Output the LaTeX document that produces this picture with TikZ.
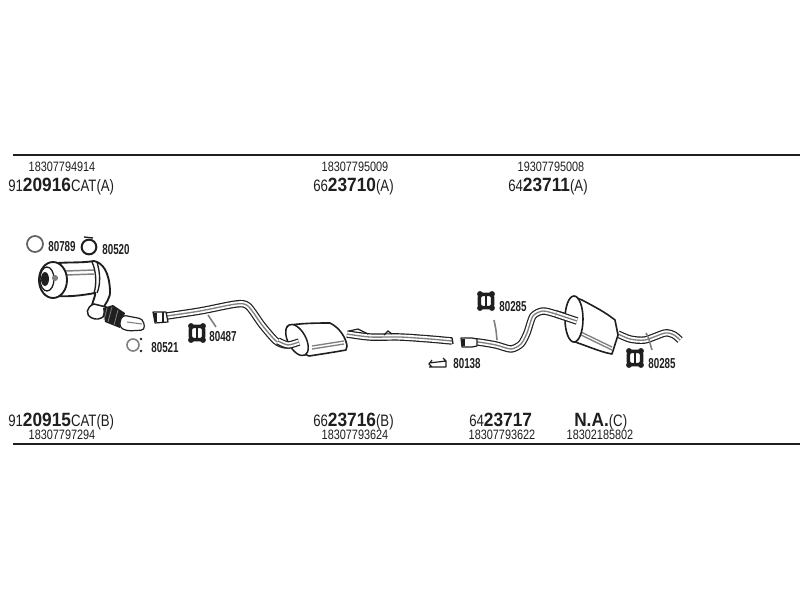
\documentclass[tikz,border=0pt]{standalone}
\usepackage{fontspec}
\setmainfont{Liberation Sans}
\newfontfamily\thinf[FakeStretch=0.8]{Liberation Sans}
\newfontfamily\boldf[FakeStretch=0.9]{Liberation Sans Bold}
\newfontfamily\labf[FakeStretch=0.68]{Liberation Sans Bold}
\definecolor{ink}{gray}{0.12}
\definecolor{mid}{gray}{0.5}
\tikzset{
  rule/.style={draw=ink,line width=1.3pt},
  num/.style={inner sep=0,font=\thinf\fontsize{10.2}{10}\selectfont,text=ink},
  part/.style={inner sep=0,anchor=base west,text=ink},
  tag/.style={inner sep=0,font=\labf\fontsize{10.8}{11}\selectfont,text=ink},
  outl/.style={draw=ink,line width=0.9pt,line join=round,fill=white},
}
\newcommand\pipeline[2][5.6]{%
  \draw[ink,line width=#1 pt,line join=round] plot[smooth,tension=.45] coordinates {#2};
  \draw[white,line width=#1 pt-1.8pt,line join=round] plot[smooth,tension=.45] coordinates {#2};
  \draw[mid,line width=1pt,line join=round] plot[smooth,tension=.45] coordinates {#2};
}
\newcommand\partno[5]{%
  \node[part] (#1) at (#2) {\thinf\fontsize{12.4}{12}\selectfont #3\boldf\fontsize{14.4}{14}\selectfont #4\thinf\fontsize{12.4}{12}\selectfont #5};
}
\newcommand\rubber[2]{%
  \begin{scope}[shift={(#2)}]
    \node[draw=ink,line width=2.6pt,fill=white,rounded corners=2.5pt,minimum width=10pt,minimum height=10pt,inner sep=0,shape=rectangle] (#1) at (0,0) {};
    \fill[ink] (-6,-7) circle (2.2pt) (6,-7) circle (2.2pt) (-6,7) circle (2.2pt) (6,7) circle (2.2pt);
    \fill[ink] (-1.4,-6) rectangle (1.4,6);
  \end{scope}
}
\begin{document}
\begin{tikzpicture}[x=0.75pt,y=-0.75pt]
\useasboundingbox (0,0) rectangle (800,600);
\fill[white] (0,0) rectangle (800,600);
\coordinate (tl) at (13,155); \coordinate (tr) at (800,155);
\coordinate (bl) at (13,444); \coordinate (br) at (800,444);
\draw[rule] (tl) -- (tr);
\draw[rule] (bl) -- (br);

% top texts
\node[num] (t1) at (62,167) {18307794914};
\node[num] (t2) at (355,167) {18307795009};
\node[num] (t3) at (551,167) {19307795008};
\partno{a1}{8,191}{91}{20916}{CAT(A)}
\partno{a2}{313,191}{66}{23710}{(A)}
\partno{a3}{508,191}{64}{23711}{(A)}

% bottom texts
\partno{b1}{8,426}{91}{20915}{CAT(B)}
\partno{b2}{313,426}{66}{23716}{(B)}
\partno{b3}{469,426}{64}{23717}{}
\node[part] (b4) at (574,426) {\boldf\fontsize{14.4}{14}\selectfont N.A.\thinf\fontsize{12.4}{12}\selectfont (C)};
\node[num] (c1) at (62,435) {18307797294};
\node[num] (c2) at (355,435) {18307793624};
\node[num] (c3) at (502,435) {18307793622};
\node[num] (c4) at (600,435) {18302185802};

% catalyst
\draw[ink,line width=1.4pt,fill=white] (58,263) .. controls (72,262) and (82,263) .. (94,261) .. controls (103,263) and (109,272) .. (110,290) .. controls (111,298) and (105,304) .. (102,310) -- (92,305) .. controls (94,298) and (96,294) .. (95,293) .. controls (84,295) and (70,297) .. (58,296) -- cycle;
\draw[mid,line width=1.1pt] (66,271) -- (94,270) (66,275) -- (94,274);
\draw[ink,line width=1pt] (92,262) .. controls (96,270) and (97,284) .. (94,293);
\draw[ink,line width=1pt] (97,262) .. controls (100,272) and (101,284) .. (97,293);
\draw[ink,line width=1.4pt,fill=white] (53,280) ellipse (14 and 18);
\draw[ink,line width=1pt,fill=white] (47,279) ellipse (7 and 12);
\fill[ink] (45,279) ellipse (4 and 7);
\fill[mid] (55,278) circle (2.3pt);
% flex section
\draw[ink,line width=1.1pt,fill=white] (94,304) .. controls (86,307) and (85,315) .. (92,318) .. controls (96,320) and (100,319) .. (103,317) -- (106,307) -- cycle;
\fill[ink] (103,308) -- (113,305) -- (125,313) -- (120,328) -- (105,322) -- cycle;
\draw[mid,line width=0.6pt] (107,308) -- (104,320) (112,307) -- (108,322) (118,310) -- (114,325);
\draw[outl,rounded corners=3pt] (122,315) -- (143,319) -- (145,330) -- (127,331) -- (119,327) -- cycle;
\draw[mid,line width=0.8pt] (127,322) -- (142,324);

% rings
\node[circle,draw=mid!70!ink,line width=1.3pt,minimum size=12pt,inner sep=0] (r1) at (35,244) {};
\node[circle,draw=ink,line width=1.5pt,minimum size=11pt,inner sep=0] (r2) at (89,247) {};
\draw[ink,line width=1pt] (84,237) -- (93,238);
\node[circle,draw=mid,line width=1.2pt,minimum size=9pt,inner sep=0] (r3) at (133,345) {};
\fill[ink] (141,339) circle (1.1pt) (141,351) circle (1.1pt);
\node[tag] (n1) at (62,247) {80789};
\node[tag] (n2) at (116,250) {80520};
\node[tag] (n3) at (165,348) {80521};

% front pipe
\pipeline{(160,317) (200,311) (236,304) (248,306) (262,325) (276,341) (286,345) (299,343)}
\draw[outl] (153,312) -- (166,312) -- (168,322) -- (155,323) -- cycle;
\fill[ink] (154,313) rectangle (157,322);
\draw[ink,line width=0.8pt] (163,312) -- (163,322);
\draw[mid,line width=1.2pt] (208,315) -- (216,327);
\rubber{h1}{197,333}
\node[tag] (n4) at (223,337) {80487};

% middle muffler
\pipeline{(347,334) (370,337) (400,337) (430,339) (452,341)}
\draw[ink,line width=0.9pt] (349,331) -- (358,329) -- (368,334) (384,335) -- (388,331) -- (392,334);
\draw[ink,line width=1pt] (452,338) -- (453,344);
\draw[outl,line width=1.2pt] (290,325) .. controls (305,323) and (320,323) .. (330,323) .. controls (340,328) and (346,338) .. (347,346) -- (346,350) .. controls (335,352) and (322,354) .. (309,356) .. controls (298,352) and (287,338) .. (286,330) .. controls (286,327) and (288,325) .. (290,325) -- cycle;
\draw[mid,line width=1pt] (312,349) -- (344,344) (312,346) -- (344,341);
\draw[ink,line width=1.1pt,fill=white,rotate around={28:(297,340)}] (297,340) ellipse (9 and 17);
\pipeline{(278,341) (288,345) (299,342)}

% clip 80138
\draw[ink,line width=0.9pt] (429,363) -- (446,361) (429,367) -- (446,367) (432,360) -- (429,364) -- (432,367) (443,358) -- (446,361) -- (446,367);
\node[tag] (n5) at (467,364) {80138};

% rear
\draw[mid,line width=1.2pt,rounded corners=1pt] (494,320) -- (496,330) -- (497,340);
\pipeline{(468,342) (478,342) (496,345) (511,349) (521,344) (527,333) (533,316) (543,311) (556,314) (570,318)}
\draw[outl] (461,338) -- (472,338) -- (477,339) -- (477,346) -- (472,347) -- (462,347) -- cycle;
\fill[ink] (462,339) rectangle (465,346);
\rubber{h2}{486,301}
\node[tag] (n6) at (513,307) {80285};

% rear muffler
\pipeline{(618,334) (630,339) (645,340) (665,333) (674,335) (680,340)}
\draw[outl,line width=1.2pt] (574,297) -- (582,300) .. controls (595,307) and (605,312) .. (615,320) -- (618,335) -- (612,354) .. controls (600,352) and (585,345) .. (572,341) .. controls (564,336) and (564,305) .. (574,297) -- cycle;
\draw[mid,line width=1pt] (581,335) -- (612,350) (581,332) -- (612,347);
\draw[ink,line width=1.2pt,fill=white] (574,319) ellipse (9 and 23);
\pipeline{(556,314) (568,318) (577,321)}
\draw[mid,line width=1.2pt] (646,333) .. controls (650,339) and (650,345) .. (652,350);
\rubber{h3}{635,358}
\node[tag] (n7) at (662,364) {80285};
\end{tikzpicture}
\end{document}
